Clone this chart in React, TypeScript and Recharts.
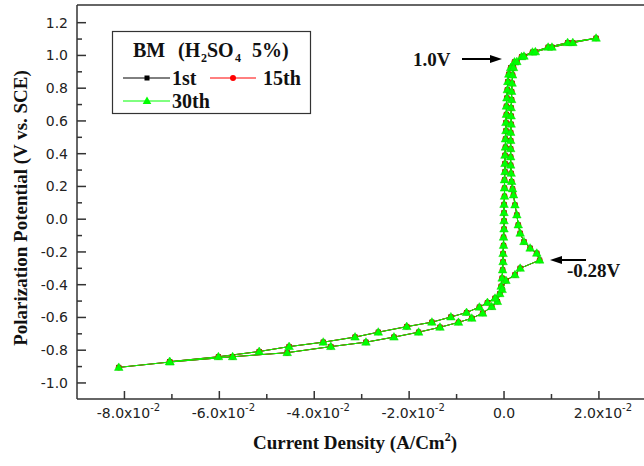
import React from "react";
import {ComposedChart, Line, XAxis, YAxis, ReferenceLine} from "recharts";

// forward scan: cathodic branch -> passive film -> transpassive
const forwardCurrent = [
    -0.0812, -0.0704, -0.0572, -0.0457, -0.0365, -0.0291, -0.0232, -0.0180, -0.0135, -0.0096,
    -0.0068, -0.0045, -0.0026, -0.0014, -0.0009, -0.0006, -0.0004, -0.0003, -0.0002, -0.0002,
    -0.0001, -0.0001, 0.0000, 0.0000, 0.0000, 0.0000, 0.0001, 0.0001, 0.0001, 0.0002,
    0.0002, 0.0002, 0.0003, 0.0003, 0.0004, 0.0004, 0.0005, 0.0005, 0.0006, 0.0007,
    0.0008, 0.0010, 0.0014, 0.0022, 0.0037, 0.0060, 0.0093, 0.0134, 0.0194,
];
const forwardPotential = [
    -0.905, -0.872, -0.840, -0.815, -0.778, -0.751, -0.720, -0.690, -0.660, -0.630,
    -0.605, -0.574, -0.534, -0.503, -0.455, -0.410, -0.360, -0.310, -0.260, -0.210,
    -0.160, -0.110, -0.060, -0.010, 0.040, 0.090, 0.140, 0.190, 0.240, 0.290,
    0.340, 0.390, 0.440, 0.490, 0.540, 0.590, 0.640, 0.690, 0.740, 0.790,
    0.840, 0.885, 0.925, 0.960, 0.992, 1.020, 1.050, 1.078, 1.105,
];

// reverse scan back down to the cathodic side
const reverseCurrent = [
    0.0145, 0.0101, 0.0066, 0.0042, 0.0027, 0.0020, 0.0018, 0.0017, 0.0016, 0.0016,
    0.0015, 0.0015, 0.0015, 0.0014, 0.0014, 0.0014, 0.0014, 0.0014, 0.0015, 0.0016,
    0.0018, 0.0020, 0.0023, 0.0027, 0.0030, 0.0034, 0.0042, 0.0055, 0.0069, 0.0075,
    0.0034, 0.0023, 0.0004, -0.0004, -0.0019, -0.0035, -0.0052, -0.0079, -0.0112, -0.0152,
    -0.0205, -0.0265, -0.0314, -0.0381, -0.0453, -0.0516, -0.0602, -0.0705,
];
const reversePotential = [
    1.078, 1.050, 1.022, 0.995, 0.962, 0.925, 0.880, 0.830, 0.780, 0.730,
    0.680, 0.630, 0.580, 0.530, 0.480, 0.430, 0.380, 0.330, 0.280, 0.230,
    0.185, 0.148, 0.087, 0.026, -0.035, -0.086, -0.137, -0.177, -0.208, -0.250,
    -0.300, -0.340, -0.375, -0.430, -0.483, -0.509, -0.537, -0.570, -0.597, -0.629,
    -0.656, -0.690, -0.720, -0.751, -0.778, -0.808, -0.840, -0.870,
];

const currentTicks = [-0.08, -0.07, -0.06, -0.05, -0.04, -0.03, -0.02, -0.01, 0, 0.01, 0.02];
const potentialTicks = [
    -1.0, -0.9, -0.8, -0.7, -0.6, -0.5, -0.4, -0.3, -0.2, -0.1, 0,
    0.1, 0.2, 0.3, 0.4, 0.5, 0.6, 0.7, 0.8, 0.9, 1.0, 1.1, 1.2,
];
const cycleNames = ["1st", "15th", "30th"];

const buildScan = (current: number[], potential: number[]) =>
    current.map((c, i) => ({current: c, potential: potential[i]}));

const scanData = [
    ...buildScan(forwardCurrent, forwardPotential),
    ...buildScan(reverseCurrent, reversePotential),
];

const TICK_FONT = "'DejaVu Sans', sans-serif";
const TITLE_FONT = "'Liberation Serif', 'Times New Roman', serif";
const AXIS_COLOR = "#333";

const squareDot = (props: any) => {
    const {cx, cy, index} = props;
    if (cx == null || cy == null) return <g key={`sq-${index}`}/>;
    return <rect key={`sq-${index}`} x={cx - 2.5} y={cy - 2.5} width={5} height={5} fill="#000"/>;
};

const circleDot = (props: any) => {
    const {cx, cy, index} = props;
    if (cx == null || cy == null) return <g key={`ci-${index}`}/>;
    return <circle key={`ci-${index}`} cx={cx} cy={cy} r={3} fill="#FF0000"/>;
};

const triangleDot = (props: any) => {
    const {cx, cy, index} = props;
    if (cx == null || cy == null) return <g key={`tr-${index}`}/>;
    return <polygon key={`tr-${index}`}
                    points={`${cx},${cy - 4.5} ${cx - 4.3},${cy + 3} ${cx + 4.3},${cy + 3}`}
                    fill="#00FF00" stroke="#00E000" strokeWidth={0.5}/>;
};

const CYCLE_STYLE = [
    {color: "#000000", dot: squareDot},
    {color: "#FF0000", dot: circleDot},
    {color: "#00FF00", dot: triangleDot},
];

// ticks point inwards, minor ticks shorter and unlabeled
const CurrentTick = (props: any) => {
    const {x, y, payload} = props;
    const v = payload.value;
    const hundredths = Math.round(v * 100);
    const major = hundredths % 2 === 0;
    return (
        <g>
            <line x1={x} y1={y} x2={x} y2={y - (major ? 8 : 5)} stroke={AXIS_COLOR} strokeWidth={1.5}/>
            {major && (
                hundredths === 0 ?
                    <text x={x} y={y + 19} textAnchor="middle" fontFamily={TICK_FONT} fontSize={14} fill="#222">0.0</text> :
                    <text x={x + 4} y={y + 19} textAnchor="middle" fontFamily={TICK_FONT} fontSize={14} fill="#222">
                        {`${hundredths.toFixed(1)}x10`}
                        <tspan dy={-7} fontSize={10}>-2</tspan>
                    </text>
            )}
        </g>
    );
};

const PotentialTick = (props: any) => {
    const {x, y, payload} = props;
    const v = payload.value;
    const major = Math.round(v * 10) % 2 === 0;
    return (
        <g>
            <line x1={x} y1={y} x2={x + (major ? 9 : 5)} y2={y} stroke={AXIS_COLOR} strokeWidth={1.5}/>
            {major && (
                <text x={x - 9} y={y} dy="0.36em" textAnchor="end" fontFamily={TICK_FONT} fontSize={14} fill="#222">
                    {v.toFixed(1)}
                </text>
            )}
        </g>
    );
};

const Overlay = () => (
    <svg width={644} height={466} style={{position: "absolute", left: 0, top: 0, pointerEvents: "none"}}>
        {/* legend box */}
        <rect x={112.5} y={31.5} width={198} height={82} fill="#fff" stroke={AXIS_COLOR} strokeWidth={1.2}/>
        <g fontFamily={TITLE_FONT} fontWeight="bold" fontSize={20} fill="#111">
            <text x={133} y={57}>BM</text>
            <text x={178} y={57}>(H</text>
            <text x={201} y={62} fontSize={12}>2</text>
            <text x={207} y={57}>SO</text>
            <text x={235} y={62} fontSize={12}>4</text>
            <text x={252} y={57}>5%)</text>
            <text x={172} y={85}>{cycleNames[0]}</text>
            <text x={263} y={85}>{cycleNames[1]}</text>
            <text x={172} y={108}>{cycleNames[2]}</text>
        </g>
        <line x1={123} y1={78} x2={170} y2={78} stroke="#000" strokeWidth={1}/>
        <rect x={144.5} y={75.5} width={5} height={5} fill="#000"/>
        <line x1={210} y1={78} x2={256} y2={78} stroke="#FF0000" strokeWidth={1}/>
        <circle cx={233} cy={78} r={3} fill="#FF0000"/>
        <line x1={123} y1={101} x2={170} y2={101} stroke="#00FF00" strokeWidth={1}/>
        <polygon points="147,96.5 142.7,104 151.3,104" fill="#00FF00"/>

        {/* annotations */}
        <text x={413} y={66} fontFamily={TITLE_FONT} fontWeight="bold" fontSize={19} fill="#111">1.0V</text>
        <line x1={462} y1={59} x2={492} y2={59} stroke="#000" strokeWidth={2}/>
        <polygon points="502,59 490,55 490,63" fill="#000"/>
        <text x={567} y={277} fontFamily={TITLE_FONT} fontWeight="bold" fontSize={19} fill="#111">-0.28V</text>
        <line x1={560} y1={260} x2={586} y2={260} stroke="#000" strokeWidth={2}/>
        <polygon points="550,260 562,256 562,264" fill="#000"/>

        {/* axis titles */}
        <text x={355} y={449} textAnchor="middle" fontFamily={TITLE_FONT} fontWeight="bold" fontSize={19} fill="#111">
            Current Density (A/Cm<tspan dy={-8} fontSize={12}>2</tspan><tspan dy={8}>)</tspan>
        </text>
        <text transform="translate(27,208) rotate(-90)" textAnchor="middle" fontFamily={TITLE_FONT}
              fontWeight="bold" fontSize={19} fill="#111">
            Polarization Potential (V vs. SCE)
        </text>
    </svg>
);

export default function App() {
    return (
        <div style={{position: "absolute", left: 0, top: 0, width: 644, height: 466, background: "#fff"}}>
            <ComposedChart width={644} height={466} margin={{top: 5, right: 0, bottom: 0, left: 0}}>
                <XAxis dataKey="current" type="number" domain={[-0.09, 0.0295]} allowDataOverflow
                       ticks={currentTicks} interval={0} tickSize={0} tickMargin={0} tickLine={false}
                       tick={<CurrentTick/>} height={67} stroke={AXIS_COLOR} strokeWidth={1.5}/>
                <YAxis dataKey="potential" type="number" domain={[-1.098, 1.308]} allowDataOverflow
                       ticks={potentialTicks} interval={0} tickSize={0} tickMargin={0} tickLine={false}
                       tick={<PotentialTick/>} width={77} stroke={AXIS_COLOR} strokeWidth={1.5}/>
                <ReferenceLine y={1.308} stroke={AXIS_COLOR} strokeWidth={1.5} ifOverflow="extendDomain"/>
                {cycleNames.map((name, i) => (
                    <Line key={name} name={name} data={scanData} dataKey="potential" type="linear"
                          stroke={CYCLE_STYLE[i].color} strokeWidth={1} dot={CYCLE_STYLE[i].dot}
                          activeDot={false} isAnimationActive={false}/>
                ))}
            </ComposedChart>
            <Overlay/>
        </div>
    );
}
